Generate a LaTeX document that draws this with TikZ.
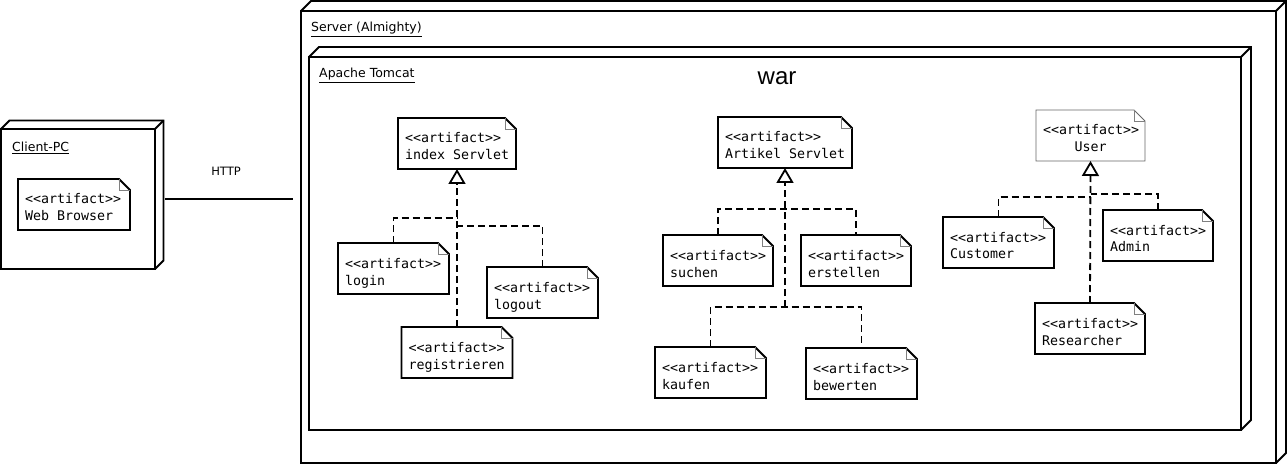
\documentclass[tikz,border=0pt]{standalone}
\usepackage{fontspec}
\setmainfont{DejaVu Sans}
\setmonofont{DejaVu Sans Mono}
\newfontfamily\warfont{Liberation Sans}
\usetikzlibrary{arrows.meta,calc}
\newcommand{\artst}{<\kern0pt<artifact>\kern0pt>}
\newcommand{\artlbl}[1]{\spaceskip=0pt\xspaceskip=0pt\rule{0pt}{25pt}\mbox{\artst}\\\mbox{#1}\rule[-9pt]{0pt}{9pt}}
\begin{document}
\begin{tikzpicture}[x=1pt,y=-1pt,
  art/.style={font=\ttfamily\fontsize{13.3}{17}\selectfont, align=left, inner xsep=7pt, inner ysep=0pt, outer sep=0pt, anchor=north west},
  artline/.style={line width=1.8pt, line join=miter},
  foldline/.style={line width=0.8pt, gray},
  nodebox/.style={draw, line width=1.8pt, inner sep=0pt, outer sep=0pt, anchor=north west},
  depth3d/.style={line width=1.8pt, line join=miter},
  lbl/.style={font=\fontsize{12.5}{14}\selectfont, inner sep=0pt, anchor=base west},
  dep/.style={dash pattern=on 7pt off 4pt, line width=1.8pt},
  real/.style={dep, -{Triangle[open, length=15pt, width=17pt]}},
  conn/.style={line width=1.8pt}
]
\useasboundingbox (0,0) rectangle (1287,465);

% 3D nodes
\node[nodebox, minimum width=975pt, minimum height=452pt] (server) at (301,11) {};
\node[nodebox, minimum width=932pt, minimum height=373pt] (tomcat) at (309,57) {};
\node[nodebox, minimum width=154pt, minimum height=140pt] (client) at (1,129) {};
\foreach \n/\d in {server/10pt, tomcat/10pt, client/8.5pt}{
  \draw[depth3d] (\n.north west) -- ([shift={(\d,\d)}]\n.north west) -- ([shift={(\d,\d)}]\n.north east) -- ([shift={(\d,\d)}]\n.south east) -- (\n.south east);
  \draw[depth3d] (\n.north east) -- ([shift={(\d,\d)}]\n.north east);
}

% labels
\node[lbl] (serverL) at (311,32) {\underline{Server (Almighty)}};
\node[lbl] (tomcatL) at (319,78) {\underline{Apache Tomcat}};
\node[lbl] (clientL) at (12,152) {\underline{Client-PC}};
\node[font=\warfont\fontsize{24}{24}\selectfont, inner sep=0pt, anchor=base] (war) at (777,85) {war};
\node[font=\fontsize{11.5}{13}\selectfont, inner sep=0pt, anchor=base] (http) at (226,176) {HTTP};

% HTTP connection
\path (server.west |- client.east) coordinate (srvIn);
\draw[conn] ([xshift=10pt]client.east) -- ([xshift=-8pt]srvIn);

% artifacts
\node[art, text width=98pt] (web) at (18,179) {\artlbl{Web Browser}};
\node[art, text width=104pt] (idx) at (398,118) {\artlbl{index Servlet}};
\node[art, text width=97pt] (login) at (338,243) {\artlbl{login}};
\node[art, text width=97pt] (logout) at (487,267) {\artlbl{logout}};
\node[art, text width=97pt] (reg) at (401.5,327) {\artlbl{registrieren}};
\node[art, text width=120pt] (artk) at (718,117) {\artlbl{Artikel Servlet}};
\node[art, text width=96pt] (such) at (663,235) {\artlbl{suchen}};
\node[art, text width=96pt] (erst) at (801,235) {\artlbl{erstellen}};
\node[art, text width=97pt] (kauf) at (655,347) {\artlbl{kaufen}};
\node[art, text width=97pt] (bew) at (806,348) {\artlbl{bewerten}};
\node[art, text width=95pt, align=center] (user) at (1036,110) {\artlbl{User}};
\node[art, text width=97pt] (cust) at (943,217) {\artlbl{Customer}};
\node[art, text width=96pt] (admin) at (1103,210) {\artlbl{Admin}};
\node[art, text width=96pt] (res) at (1035,303) {\artlbl{Researcher}};

\foreach \n in {web, idx, login, logout, reg, artk, such, erst, kauf, bew, cust, admin, res}{
  \draw[artline] (\n.south west) -- (\n.north west) -- ([xshift=-11pt]\n.north east) -- ([yshift=-11pt]\n.north east) -- (\n.south east) -- cycle;
  \draw[foldline] ([xshift=-11pt]\n.north east) |- ([yshift=-11pt]\n.north east);
}
\draw[line width=0.9pt, gray!80!black] (user.south west) -- (user.north west) -- ([xshift=-11pt]user.north east) -- ([yshift=-11pt]user.north east) -- (user.south east) -- cycle;
\draw[foldline] ([xshift=-11pt]user.north east) |- ([yshift=-11pt]user.north east);

% index servlet realizations
\coordinate (idxJ1) at ([yshift=-49pt]idx.south);
\coordinate (idxJ2) at ([yshift=-57pt]idx.south);
\draw[real] (reg.north) -- (idx.south);
\draw[dep] (login.north) |- (idxJ1);
\draw[dep] (logout.north) |- (idxJ2);

% artikel servlet realizations
\coordinate (artJ1) at ([yshift=-41pt]artk.south);
\coordinate (artJ2) at ([yshift=-139pt]artk.south);
\draw[real] (artJ2) -- (artk.south);
\draw[dep] (kauf.north) |- (artJ2) -| (bew.north);
\draw[dep] (such.north) |- (artJ1) -| (erst.north);

% user realizations
\coordinate (uJ1) at ([yshift=-36pt]user.south);
\coordinate (uJ2) at ([yshift=-33pt]user.south);
\draw[real] (res.north) -- (user.south);
\draw[dep] (cust.north) |- (uJ1);
\draw[dep] (admin.north) |- (uJ2);
\end{tikzpicture}
\end{document}
